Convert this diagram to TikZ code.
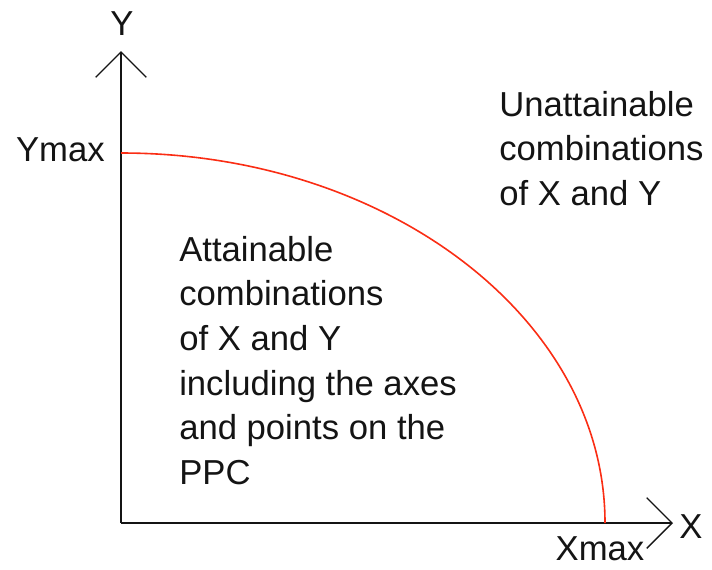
\documentclass[tikz,border=0pt]{standalone}
\usepackage{fontspec}
\setmainfont{Liberation Sans}
\usepackage{xcolor}
\usetikzlibrary{arrows.meta, calc}
\definecolor{ppcred}{RGB}{250, 45, 20}
\definecolor{axisgray}{RGB}{20, 20, 20}
\tikzset{
  x=0.75pt, y=-0.75pt,
  font=\fontsize{26}{33.4}\selectfont,
  axisline/.style={
    draw=axisgray, line width=1.4pt,
    -{Straight Barb[length=19pt, width=38pt, line width=1pt]}
  },
  ppcline/.style={draw=ppcred, line width=1.2pt},
  axislabel/.style={inner sep=0pt, text=axisgray},
  regiontext/.style={inner sep=0pt, align=left, anchor=north west, text=axisgray}
}
\begin{document}
\begin{tikzpicture}
  \useasboundingbox (0,0) rectangle (712,569);

  % Axes: origin and the two tips
  \coordinate (origin) at (121,523);
  \coordinate (ytip) at (121,51);
  \coordinate (xtip) at (673,523);
  \draw[axisline] (origin) -- (ytip);
  \draw[axisline] (origin) -- (xtip);

  % Ends of the frontier on the axes
  \coordinate (ymaxpt) at (121,153);
  \coordinate (xmaxpt) at (605,523);

  % Production possibility curve (quarter ellipse)
  \draw[ppcline] (ymaxpt) .. controls ($(ymaxpt)+(267,0)$) and ($(xmaxpt)+(0,-204)$) .. (xmaxpt);

  % Axis labels
  \node[axislabel] (ylabel) at (122,24) {Y};
  \node[axislabel] (xlabel) at (691,527) {X};
  \node[axislabel, anchor=east] (ymaxlabel) at (105,150) {Ymax};
  \node[axislabel] (xmaxlabel) at (600,549) {Xmax};

  % Regions
  \node[regiontext] (unattain) at (499,91) {Unattainable\\combinations\\of X and Y};
  \node[regiontext] (attain) at (179,236) {Attainable\\combinations\\of X and Y\\including the axes\\and points on the\\PPC};
\end{tikzpicture}
\end{document}
